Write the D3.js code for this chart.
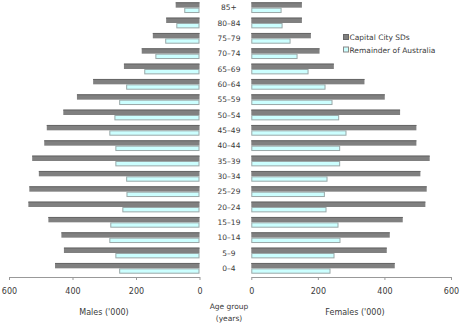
<!DOCTYPE html>
<html><head><meta charset="utf-8">
<script src="https://cdn.jsdelivr.net/npm/d3@7"></script>
<style>body{margin:0;background:#fff}svg{display:block}text{font-family:"DejaVu Sans",Verdana,sans-serif;fill:#3a3a3a}</style>
</head><body><svg id="c" width="460" height="324"></svg>
<script>
const ageGroups = ["85+","80–84","75–79","70–74","65–69","60–64","55–59","50–54","45–49","40–44","35–39","30–34","25–29","20–24","15–19","10–14","5–9","0–4"];
const maleCapital   = [75,105,147,182,238,335,386,429,481,489,527,506,536,539,476,435,427,455];
const maleRemainder = [48,73,108,139,174,231,253,268,284,265,265,231,230,243,281,284,265,253];
const femaleCapital   = [152,152,179,205,248,340,401,447,496,496,536,508,527,523,455,416,407,431];
const femaleRemainder = [91,94,118,139,172,223,244,264,286,267,267,229,221,226,262,268,250,238];
const xTicks = [0,200,400,600];
const seriesNames = ["Capital City SDs","Remainder of Australia"];

const svg = d3.select("#c");
const colDark = "#808080", colLight = "#ccffff";
const y = d3.scaleBand().domain(ageGroups).range([0,276]).paddingInner(0.3).paddingOuter(0.15);
const sub = d3.scaleBand().domain([0,1]).range([0,y.bandwidth()]);
const xL = d3.scaleLinear().domain([0,600]).range([199.5,9]);
const xR = d3.scaleLinear().domain([0,600]).range([251.3,451]);

function drawSide(scale, cap, rem){
  const g = svg.append("g");
  ageGroups.forEach((a,i)=>{
    const x0 = scale(0);
    const xc = scale(cap[i]), xr = scale(rem[i]);
    g.append("rect").attr("x",Math.min(x0,xc)).attr("y",y(a)+sub(0)).attr("width",Math.abs(xc-x0)).attr("height",sub.bandwidth())
      .attr("fill",colDark);
    g.append("line").attr("x1",Math.min(x0,xc)).attr("x2",Math.max(x0,xc)).attr("y1",y(a)+sub(0)+0.5).attr("y2",y(a)+sub(0)+0.5).attr("stroke","#666");
    g.append("rect").attr("x",Math.min(x0,xr)+0.5).attr("y",y(a)+sub(1)+0.5).attr("width",Math.abs(xr-x0)-1).attr("height",sub.bandwidth()-1)
      .attr("fill",colLight).attr("stroke","#9aa8a8").attr("stroke-width",1);
  });
}
drawSide(xL, maleCapital, maleRemainder);
drawSide(xR, femaleCapital, femaleRemainder);

function drawAxis(scale){
  const g = svg.append("g").attr("transform","translate(0,277)");
  const ax = d3.axisBottom(scale).tickValues(xTicks).tickSize(3).tickPadding(8).tickSizeOuter(0);
  g.call(ax);
  g.select(".domain").attr("stroke","#999");
  g.selectAll(".tick line").attr("stroke","#999");
  g.selectAll(".tick text").attr("font-size","8px").attr("fill","#3a3a3a").style("font-family","DejaVu Sans, Verdana, sans-serif");
}
drawAxis(xL); drawAxis(xR);

svg.append("g").selectAll("text").data(ageGroups).join("text")
  .attr("x",229).attr("y",d=>y(d)+y.bandwidth()/2).attr("dy","0.35em")
  .attr("text-anchor","middle").attr("font-size","7.5px").text(d=>d);

svg.append("text").attr("x",104).attr("y",315).attr("text-anchor","middle").attr("font-size","8px").text("Males ('000)");
svg.append("text").attr("x",355).attr("y",315).attr("text-anchor","middle").attr("font-size","8px").text("Females ('000)");
svg.append("text").attr("x",229).attr("y",309).attr("text-anchor","middle").attr("font-size","7.5px").text("Age group");
svg.append("text").attr("x",229).attr("y",321).attr("text-anchor","middle").attr("font-size","7.5px").text("(years)");

const lg = svg.append("g").attr("transform","translate(343,0)");
seriesNames.forEach((n,i)=>{
  const cy = 37.5 + i*12.5;
  lg.append("rect").attr("x",0.5).attr("y",cy-3).attr("width",5).attr("height",5)
    .attr("fill",i===0?colDark:colLight).attr("stroke",i===0?"#666":"#888").attr("stroke-width",1);
  lg.append("text").attr("x",6.5).attr("y",cy).attr("dy","0.35em").attr("font-size","7.5px").text(n);
});
</script></body></html>
